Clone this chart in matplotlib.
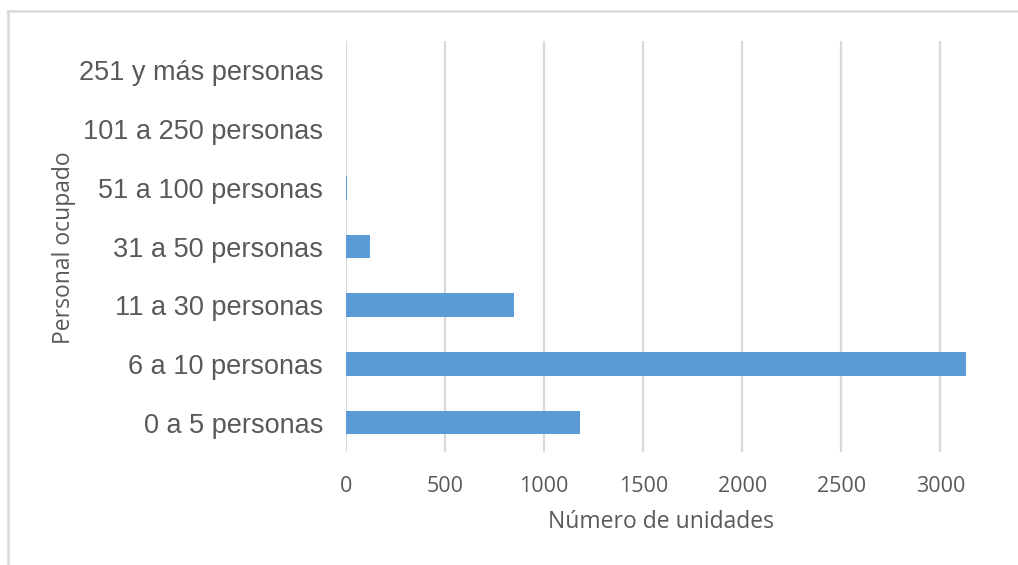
import matplotlib.pyplot as plt
from matplotlib.lines import Line2D

categorias = [
    "0 a 5 personas",
    "6 a 10 personas",
    "11 a 30 personas",
    "31 a 50 personas",
    "51 a 100 personas",
    "101 a 250 personas",
    "251 y más personas",
]
unidades = [1180, 3130, 850, 120, 5, 0, 0]
ticks_x = [0, 500, 1000, 1500, 2000, 2500, 3000]

gris_texto = "#595959"
gris_lineas = "#D9D9D9"

fig = plt.figure(figsize=(10.18, 5.65), dpi=100)
ax = fig.add_axes([0.3399, 0.2, 0.6326, 0.7274])

ax.barh(categorias, unidades, height=0.4, color="#5B9BD5", zorder=3)

ax.set_xlim(0, 3250)
ax.set_ylim(-0.5, len(categorias) - 0.5)
ax.set_xticks(ticks_x)
ax.set_xticklabels([str(t) for t in ticks_x], family="Open Sans", fontsize=15.5, color=gris_texto)
for lbl in ax.get_yticklabels():
    lbl.set_family("Liberation Sans")
    lbl.set_fontsize(19.5)
    lbl.set_color(gris_texto)

ax.tick_params(axis="both", length=0)
ax.tick_params(axis="x", pad=17)
ax.tick_params(axis="y", pad=16.5)
ax.grid(axis="x", color=gris_lineas, linewidth=1.6, zorder=0)
for s in ax.spines.values():
    s.set_visible(False)

ax.set_xlabel("Número de unidades", family="Open Sans", fontsize=16.5, color=gris_texto)
ax.xaxis.set_label_coords(0.489, -0.17)
ax.xaxis.label.set_va("center")
ax.set_ylabel("Personal ocupado", family="Open Sans", fontsize=16.5, color=gris_texto)
ax.yaxis.set_label_coords(-0.438, 0.496)
ax.yaxis.label.set_va("center")

# marco exterior del gráfico (solo se ven el borde izquierdo y el superior)
x0, y0 = 8 / 1018, 1 - 11 / 565
fig.add_artist(Line2D([x0, x0], [0, y0], transform=fig.transFigure, color=gris_lineas, linewidth=1.8))
fig.add_artist(Line2D([x0, 1], [y0, y0], transform=fig.transFigure, color=gris_lineas, linewidth=1.8))

fig.savefig("out.png", dpi=100, facecolor="white")
